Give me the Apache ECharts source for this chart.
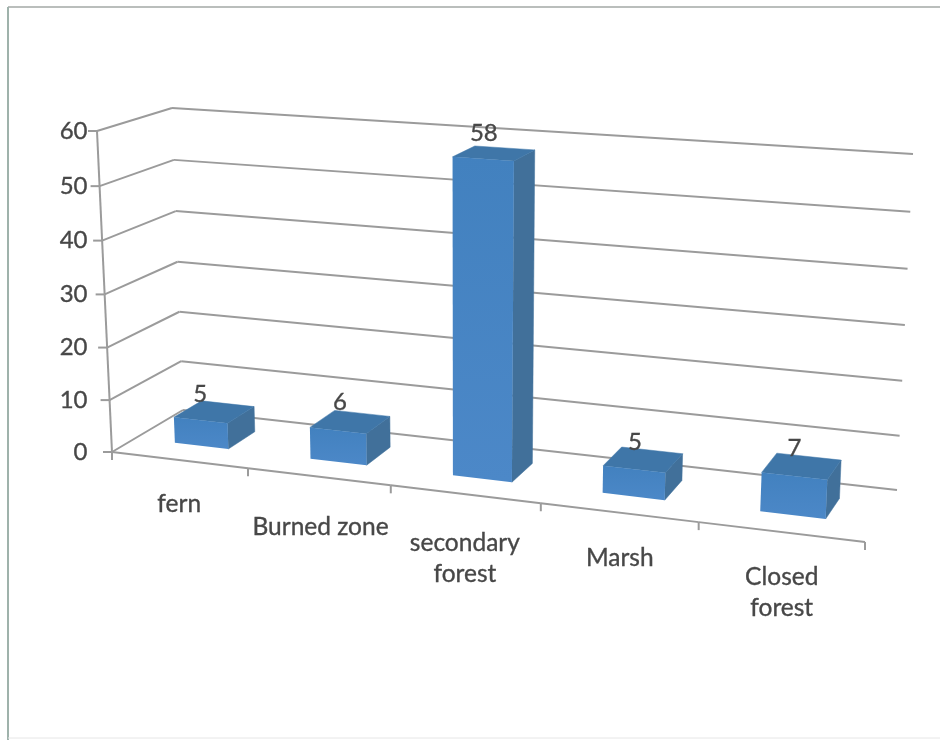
<!DOCTYPE html>
<html>
<head>
<meta charset="utf-8">
<style>html,body{margin:0;padding:0;background:#fff}#c{width:940px;height:740px}</style>
<script src="https://cdn.jsdelivr.net/npm/echarts@6/dist/echarts.min.js"></script>
</head>
<body>
<div id="c"></div>
<script>
// ---- data ----
const categories = ['fern', 'Burned zone', 'secondary\nforest', 'Marsh', 'Closed\nforest'];
const values = [5, 6, 58, 5, 7];
const yTicks = [0, 10, 20, 30, 40, 50, 60];

// ---- look ----
const FONT = 'Lato, "Open Sans", sans-serif';
const TEXT = '#474747';
const LINE = '#9b9b9b';
const FRONT_A = '#4281bf', FRONT_B = '#4c88c8', TOP = '#3f76a8', SIDE = '#41709a';
const textStyle = (size) => ({ font: size + 'px ' + FONT, fill: TEXT, stroke: TEXT, lineWidth: 0.35 });

// ---- 3D view: the box of the chart as seen on the page ----
const BOX = {
  floorFront: [[112, 452], [865, 542]],
  floorBack:  [[183, 410], [897, 490]],
  topFront:   [[97, 131],  [883, 185]],
  topBack:    [[172, 108], [913, 154]]
};
const PERSPECTIVE = 0.134, PERSPECTIVE_H = 0.037, BAR_HALF = 0.2, DEPTH = [0.33, 0.73];
const Y_LABEL_RIGHT = 87.5;
const catLabelNudge = [[0, -4], [2, 2], [0, 0], [1, -3], [1, -3]];
const valueLabelNudge = [[-3, 3], [1, 1], [1, 1], [3, 3], [4, 3]];
const lerp = (a, b, t) => [a[0] + (b[0] - a[0]) * t, a[1] + (b[1] - a[1]) * t];
function project(u, d, h) {
  const f = u / (1 + PERSPECTIVE * (1 - u));
  const g = h / (1 + PERSPECTIVE_H * (1 - h));
  const at = e => lerp(e[0], e[1], f);
  const low = lerp(at(BOX.floorFront), at(BOX.floorBack), d);
  const high = lerp(at(BOX.topFront), at(BOX.topBack), d);
  return lerp(low, high, g);
}
// from the axes' scales to normalised box coordinates
function norm(params, api, cat, value) {
  const c = api.coord([cat, value]), s = params.coordSys;
  return { u: (c[0] - s.x) / s.width, h: (s.y + s.height - c[1]) / s.height, band: api.size([1, 0])[0] / s.width };
}
const lineEl = (p, q, width) => ({
  type: 'line', shape: { x1: p[0], y1: p[1], x2: q[0], y2: q[1] },
  style: { stroke: LINE, lineWidth: width || 2, fill: null }, silent: true
});
const polyEl = (pts, fill) => ({ type: 'polygon', shape: { points: pts }, style: { fill: fill, stroke: fill, lineWidth: 0.5 }, silent: true });

function renderWall(params, api) {
  const value = api.value(0);
  const n = norm(params, api, 0, value);
  const front = project(0, 0, n.h), back = project(0, 1, n.h), right = project(1, 1, n.h);
  const kids = [
    lineEl([front[0] - 9, front[1]], front),
    lineEl(front, back),
    lineEl(back, right),
    {
      type: 'text', silent: true,
      style: Object.assign({ x: Y_LABEL_RIGHT, y: front[1], text: String(value), align: 'right', verticalAlign: 'middle' }, textStyle(24))
    }
  ];
  if (params.dataIndex < yTicks.length - 1) {
    kids.push(lineEl(front, project(0, 0, norm(params, api, 0, yTicks[params.dataIndex + 1]).h)));
  }
  return { type: 'group', children: kids };
}
function renderFloor(params, api) {
  const n = norm(params, api, api.value(0), 0);
  const a = project(n.u - n.band / 2, 0, 0), b = project(n.u + n.band / 2, 0, 0);
  const kids = [lineEl(a, b), lineEl(b, [b[0], b[1] + 8])];
  if (params.dataIndex === 0) kids.push(lineEl(a, [a[0], a[1] + 8]));
  const lab = project(n.u, 0, 0), nudge = catLabelNudge[params.dataIndex];
  kids.push({
    type: 'text', silent: true,
    style: Object.assign({ x: lab[0] + nudge[0], y: lab[1] + 33 + nudge[1], text: categories[params.dataIndex],
      align: 'center', verticalAlign: 'top', lineHeight: 31 }, textStyle(24.5))
  });
  return { type: 'group', children: kids };
}
function renderBar(params, api) {
  const n = norm(params, api, api.value(0), api.value(1));
  const l = n.u - BAR_HALF * n.band, r = n.u + BAR_HALF * n.band, d0 = DEPTH[0], d1 = DEPTH[1];
  const P = project;
  const centre = P(n.u, (d0 + d1) / 2, n.h), nudge = valueLabelNudge[params.dataIndex];
  return {
    type: 'group',
    children: [
      polyEl([P(r, d0, 0), P(r, d1, 0), P(r, d1, n.h), P(r, d0, n.h)], SIDE),
      polyEl([P(l, d0, n.h), P(r, d0, n.h), P(r, d1, n.h), P(l, d1, n.h)], TOP),
      {
        type: 'polygon', silent: true,
        shape: { points: [P(l, d0, 0), P(r, d0, 0), P(r, d0, n.h), P(l, d0, n.h)] },
        style: {
          fill: { type: 'linear', x: 0, y: 0, x2: 0, y2: 1, colorStops: [{ offset: 0, color: FRONT_A }, { offset: 1, color: FRONT_B }] }
        }
      },
      {
        type: 'text', silent: true,
        style: Object.assign({ x: centre[0] - 11 + nudge[0], y: centre[1] - 21 + nudge[1], text: String(api.value(1)),
          align: 'center', verticalAlign: 'middle' }, textStyle(24))
      }
    ]
  };
}

const chart = echarts.init(document.getElementById('c'), null, { renderer: 'canvas' });
chart.setOption({
  animation: false,
  backgroundColor: '#ffffff',
  tooltip: { show: false },
  grid: { left: 96, right: 75, top: 131, bottom: 289 },
  xAxis: {
    type: 'category', data: categories,
    axisLine: { show: false }, axisTick: { show: false }, axisLabel: { show: false }, splitLine: { show: false }
  },
  yAxis: {
    type: 'value', min: yTicks[0], max: yTicks[yTicks.length - 1], interval: yTicks[1] - yTicks[0],
    axisLine: { show: false }, axisTick: { show: false }, splitLine: { show: false }, axisLabel: { show: false }
  },
  graphic: [
    { type: 'line', shape: { x1: 8, y1: 7, x2: 940, y2: 7 }, style: { stroke: '#a3a9a6', lineWidth: 1.5 } },
    { type: 'line', shape: { x1: 8, y1: 7, x2: 8, y2: 740 }, style: { stroke: '#9fb2ab', lineWidth: 2 } },
    { type: 'line', shape: { x1: 8, y1: 738, x2: 940, y2: 738 }, style: { stroke: '#e6e6e6', lineWidth: 1 } }
  ],
  series: [
    { name: 'walls', type: 'custom', coordinateSystem: 'cartesian2d', z: 1, clip: false, renderItem: renderWall,
      data: yTicks.map(v => [v]), encode: { x: -1, y: 0 } },
    { name: 'floor', type: 'custom', coordinateSystem: 'cartesian2d', z: 2, clip: false, renderItem: renderFloor,
      data: categories.map((c, i) => [i]), encode: { x: 0, y: -1 } },
    { name: 'bars', type: 'custom', coordinateSystem: 'cartesian2d', z: 3, clip: false, renderItem: renderBar,
      data: values.map((v, i) => [i, v]), encode: { x: 0, y: 1 } }
  ]
});
</script>
</body>
</html>
